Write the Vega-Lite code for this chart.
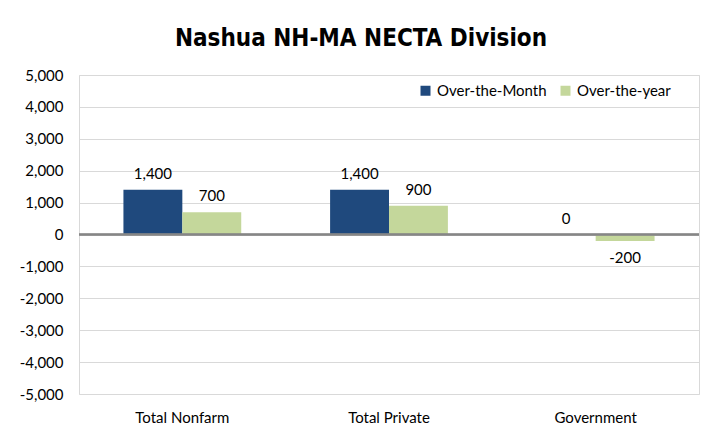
{
  "$schema": "https://vega.github.io/schema/vega-lite/v6.json",
  "autosize": {"type": "none"},
  "width": 620,
  "height": 319,
  "padding": {"left": 79, "top": 75, "right": 11, "bottom": 52},
  "background": "white",
  "title": {
    "text": "Nashua NH-MA NECTA Division",
    "font": "Liberation Sans Narrow, DejaVu Sans Condensed, sans-serif",
    "fontSize": 24,
    "fontWeight": "bold",
    "color": "#000000",
    "anchor": "middle",
    "dx": -28,
    "offset": 17
  },
  "data": {
    "values": [
      {"category": "Total Nonfarm", "series": "Over-the-Month", "value": 1400},
      {"category": "Total Nonfarm", "series": "Over-the-year", "value": 700},
      {"category": "Total Private", "series": "Over-the-Month", "value": 1400},
      {"category": "Total Private", "series": "Over-the-year", "value": 900},
      {"category": "Government", "series": "Over-the-Month", "value": 0},
      {"category": "Government", "series": "Over-the-year", "value": -200}
    ]
  },
  "transform": [
    {"calculate": "replace(format(datum.value, ',.0f'), '\u2212', '-')", "as": "label"}
  ],
  "encoding": {
    "x": {
      "field": "category",
      "type": "nominal",
      "sort": ["Total Nonfarm", "Total Private", "Government"],
      "scale": {"paddingInner": 0.43, "paddingOuter": 0.215},
      "axis": {
        "title": null,
        "labelAngle": 0,
        "ticks": false,
        "domain": false,
        "labelPadding": 16,
        "labelFont": "Lato",
        "labelFontSize": 15,
        "labelColor": "#000000"
      }
    },
    "xOffset": {"field": "series", "type": "nominal", "sort": ["Over-the-Month", "Over-the-year"]},
    "y": {
      "field": "value",
      "type": "quantitative",
      "scale": {"domain": [-5000, 5000], "nice": false, "zero": false},
      "axis": {
        "title": null,
        "values": [-5000, -4000, -3000, -2000, -1000, 0, 1000, 2000, 3000, 4000, 5000],
        "labelExpr": "replace(format(datum.value, ',.0f'), '\u2212', '-')",
        "ticks": false,
        "domain": false,
        "labelPadding": 16,
        "labelFont": "Lato",
        "labelFontSize": 15,
        "labelColor": "#000000",
        "gridColor": "#D9D9D9",
        "gridWidth": 1
      }
    }
  },
  "layer": [
    {
      "mark": {"type": "bar"},
      "encoding": {
        "color": {
          "field": "series",
          "type": "nominal",
          "sort": ["Over-the-Month", "Over-the-year"],
          "scale": {"domain": ["Over-the-Month", "Over-the-year"], "range": ["#1F497D", "#C4D79B"]},
          "legend": {
            "title": null,
            "orient": "none",
            "legendX": 339,
            "legendY": 8,
            "direction": "horizontal",
            "symbolType": "square",
            "symbolSize": 100,
            "symbolStrokeWidth": 0,
            "labelFont": "Lato",
            "labelFontSize": 15,
            "labelColor": "#000000",
            "columnPadding": 11,
            "labelOffset": 4
          }
        }
      }
    },
    {
      "mark": {"type": "rule", "color": "#868686", "strokeWidth": 1.5},
      "encoding": {"y": {"datum": 0}, "x": null, "xOffset": null}
    },
    {
      "transform": [{"filter": "datum.value >= 0"}],
      "mark": {"type": "text", "baseline": "alphabetic", "dy": -11, "font": "Lato", "fontSize": 15, "color": "#000000"},
      "encoding": {"text": {"field": "label", "type": "nominal"}}
    },
    {
      "transform": [{"filter": "datum.value < 0"}],
      "mark": {"type": "text", "baseline": "alphabetic", "dy": 22, "font": "Lato", "fontSize": 15, "color": "#000000"},
      "encoding": {"text": {"field": "label", "type": "nominal"}}
    }
  ],
  "config": {
    "view": {"stroke": "#D9D9D9", "strokeWidth": 1}
  }
}
